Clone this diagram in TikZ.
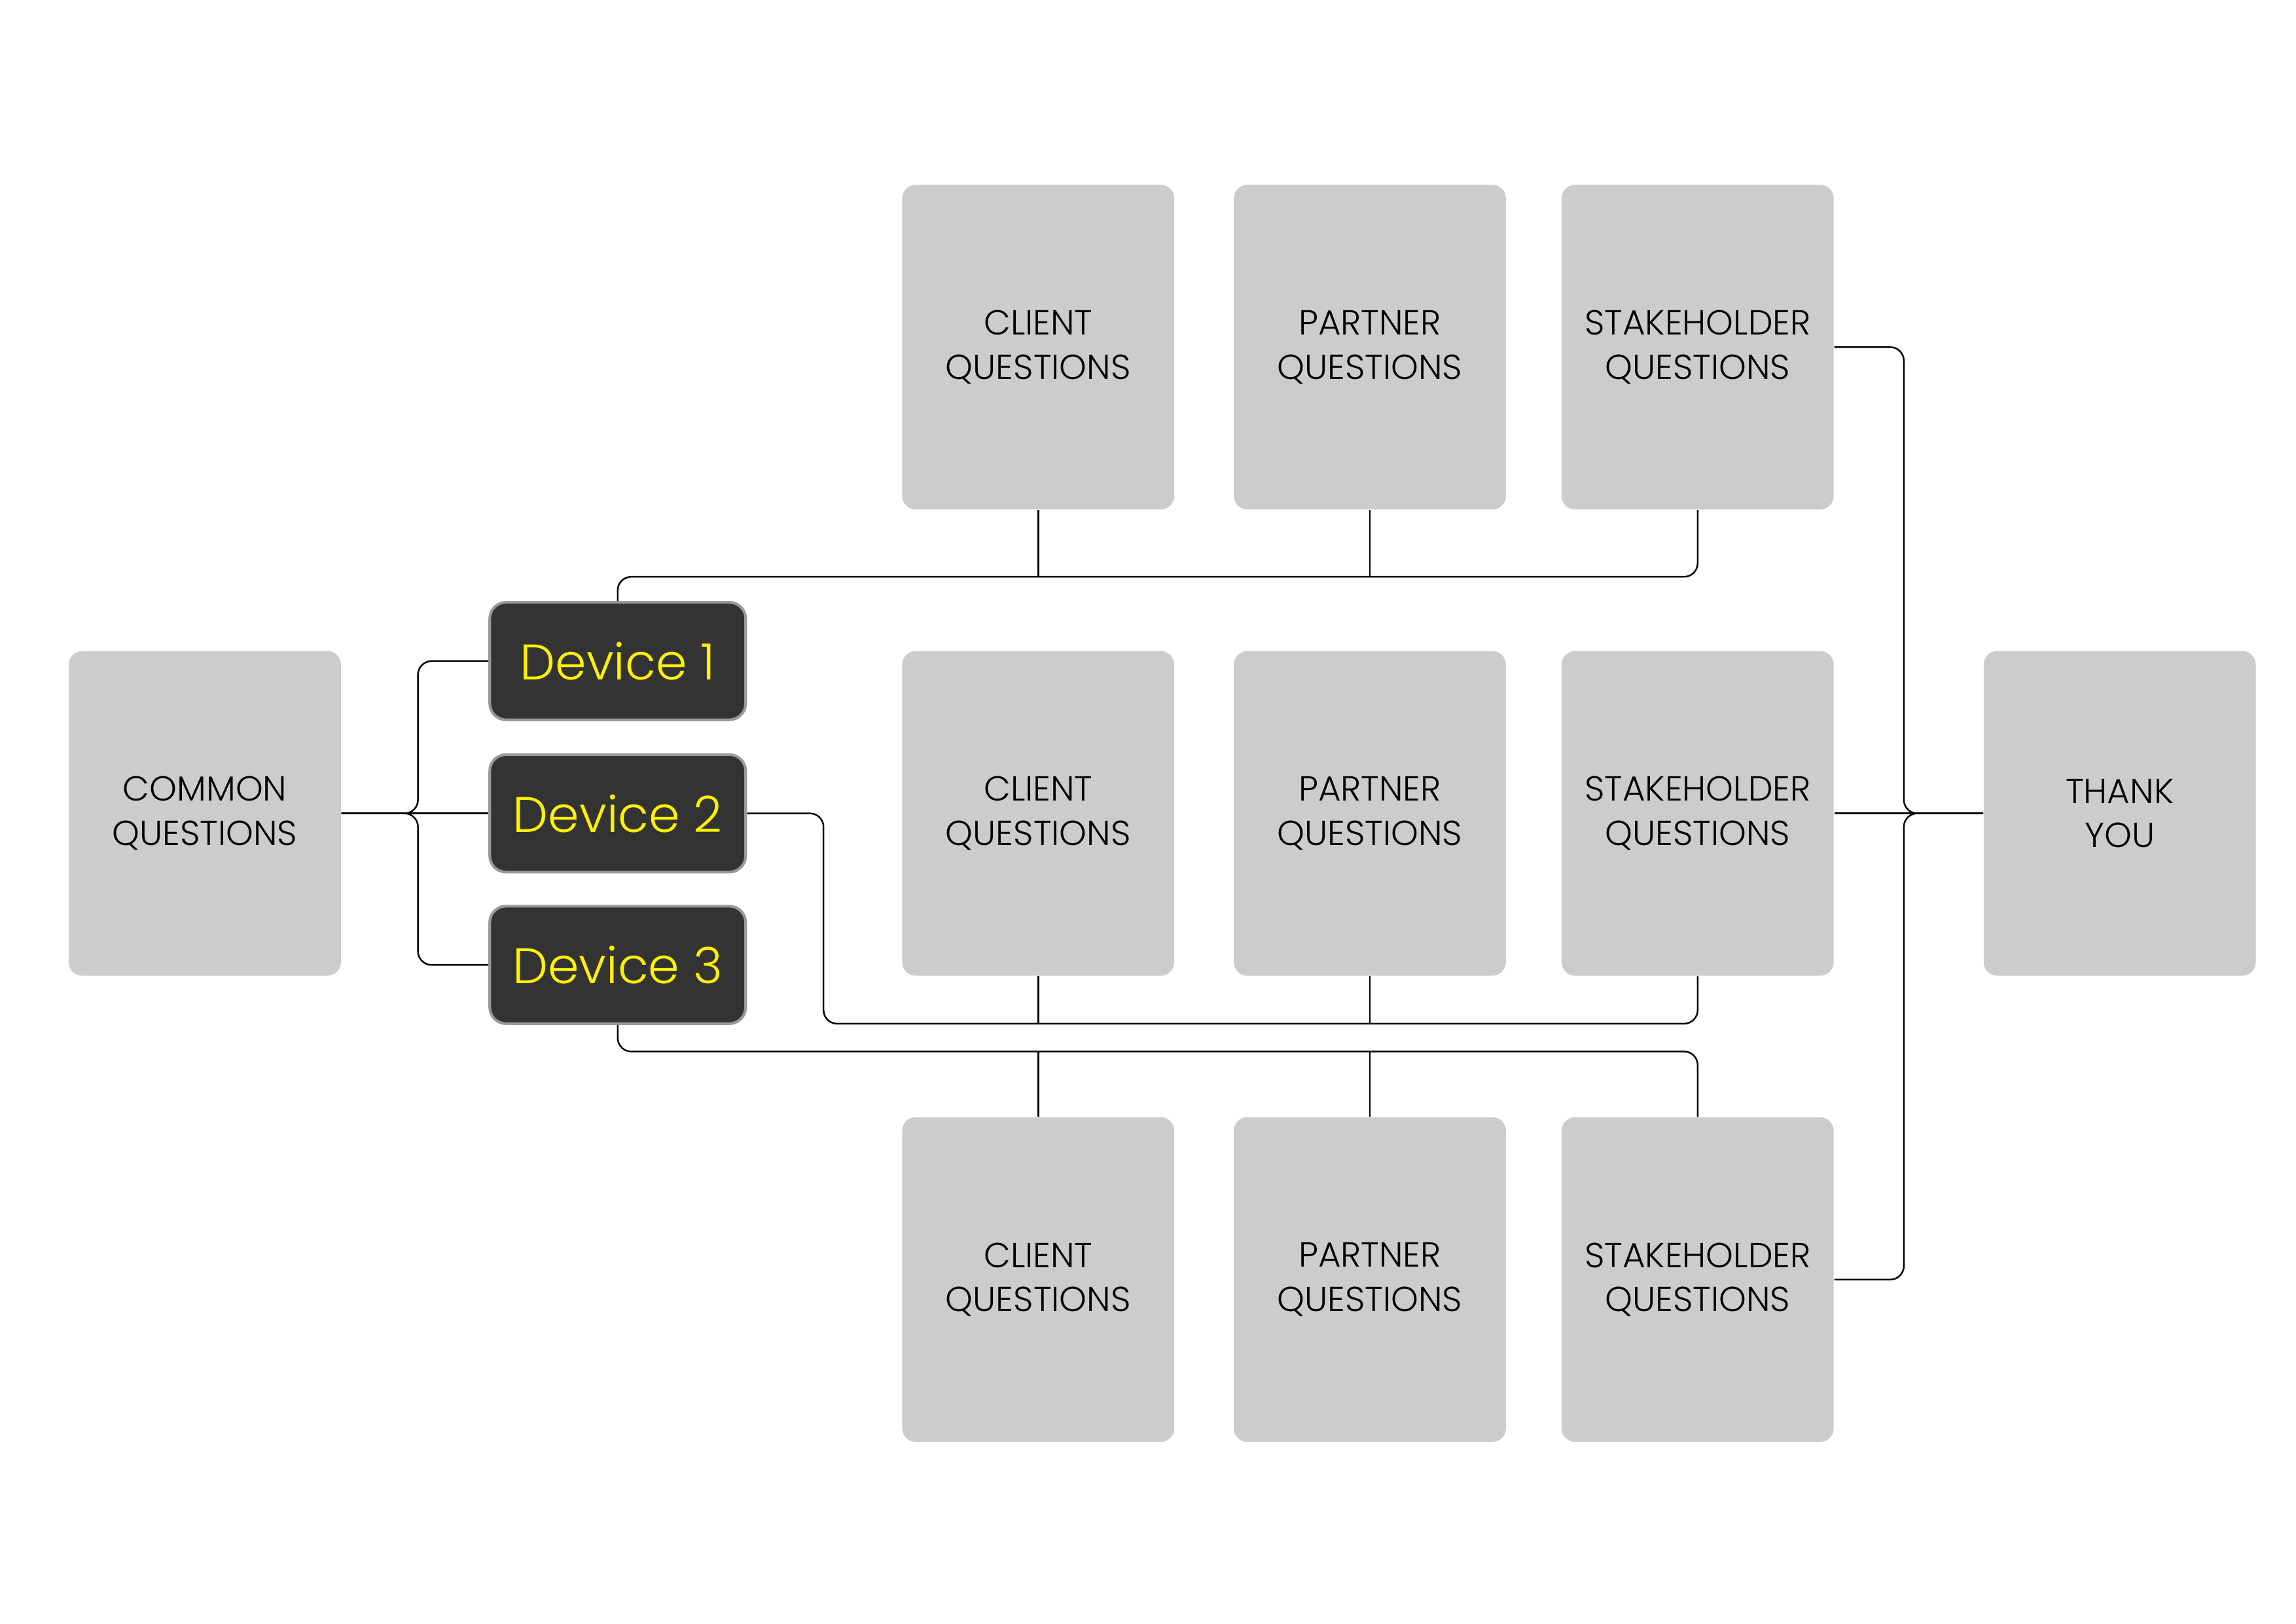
\documentclass[tikz,border=0pt]{standalone}
\usepackage{fontspec}
\setmainfont{Poppins}[UprightFont={* Light}]
\usetikzlibrary{positioning}

\definecolor{boxgray}{HTML}{CCCCCC}
\definecolor{devfill}{HTML}{333333}
\definecolor{devline}{HTML}{999999}

\tikzset{
    qbox/.style={fill=boxgray, rounded corners=5pt, minimum width=3.52cm, minimum height=4.2cm,
        align=center, inner sep=0pt, font=\fontsize{12.8}{16.3}\selectfont},
    devbox/.style={fill=devfill, draw=devline, line width=1pt, rounded corners=6pt,
        minimum width=3.31cm, minimum height=1.52cm, inner sep=0pt, text=yellow,
        font=\fontsize{18.4}{22}\selectfont},
    conn/.style={line width=0.6pt, rounded corners=5pt}
}

\begin{document}
\begin{tikzpicture}
        \useasboundingbox (0,0) rectangle (29.7,-21.0);

        % start and end
        \node[qbox] (common) at (2.65,-10.52) {COMMON\\QUESTIONS};
        \node[qbox] (thank) at (27.42,-10.52) {THANK\\YOU};

        % devices
        \node[devbox] (dev1) at (7.99,-8.55) {Device 1};
        \node[devbox] (dev2) at (7.99,-10.52) {Device 2};
        \node[devbox] (dev3) at (7.99,-12.48) {Device 3};

        % questions, top row
        \node[qbox] (cl1) at (13.43,-4.49) {CLIENT\\QUESTIONS};
        \node[qbox] (pa1) at (17.72,-4.49) {PARTNER\\QUESTIONS};
        \node[qbox] (sh1) at (21.96,-4.49) {STAKEHOLDER\\QUESTIONS};

        % questions, middle row
        \node[qbox] (cl2) at (13.43,-10.52) {CLIENT\\QUESTIONS};
        \node[qbox] (pa2) at (17.72,-10.52) {PARTNER\\QUESTIONS};
        \node[qbox] (sh2) at (21.96,-10.52) {STAKEHOLDER\\QUESTIONS};

        % questions, bottom row
        \node[qbox] (cl3) at (13.43,-16.55) {CLIENT\\QUESTIONS};
        \node[qbox] (pa3) at (17.72,-16.55) {PARTNER\\QUESTIONS};
        \node[qbox] (sh3) at (21.96,-16.55) {STAKEHOLDER\\QUESTIONS};

        % bus levels
        \coordinate (bus1) at (0,-7.46);
        \coordinate (bus2) at (0,-13.24);
        \coordinate (bus3) at (0,-13.60);

        % common to devices
        \draw[conn] (common.east) -- (dev2.west);
        \draw[conn] (common.east) -- ++(0.99,0) |- (dev1.west);
        \draw[conn] (common.east) -- ++(0.99,0) |- (dev3.west);

        % device 1
        \draw[conn] (dev1.north) |- (sh1.south |- bus1) -- (sh1.south);
        \draw[conn] (cl1.south) -- (cl1.south |- bus1);
        \draw[conn] (pa1.south) -- (pa1.south |- bus1);

        % device 2
        \draw[conn] (dev2.east) -- ++(0.99,0) |- (sh2.south |- bus2) -- (sh2.south);
        \draw[conn] (cl2.south) -- (cl2.south |- bus2);
        \draw[conn] (pa2.south) -- (pa2.south |- bus2);

        % device 3
        \draw[conn] (dev3.south) |- (sh3.north |- bus3) -- (sh3.north);
        \draw[conn] (cl3.north) -- (cl3.north |- bus3);
        \draw[conn] (pa3.north) -- (pa3.north |- bus3);

        % stakeholders to thank you
        \draw[conn] (sh2.east) -- (thank.west);
        \draw[conn] (sh1.east) -- ++(0.9,0) |- (thank.west);
        \draw[conn] (sh3.east) -- ++(0.9,0) |- (thank.west);
    \end{tikzpicture}
\end{document}
